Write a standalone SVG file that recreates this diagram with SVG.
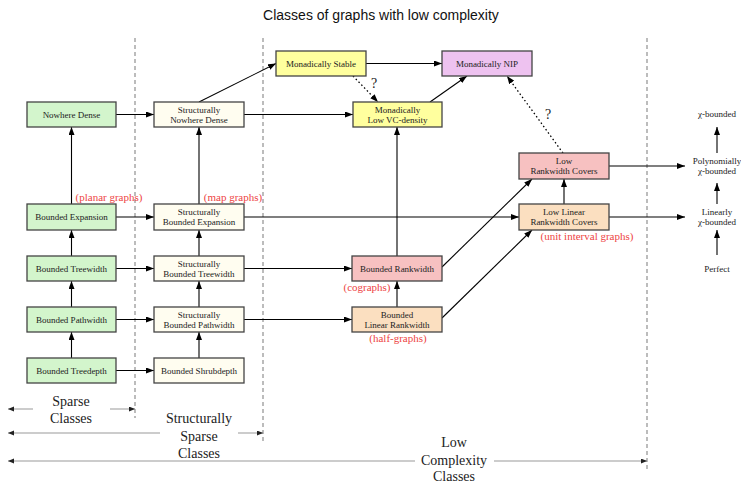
<svg xmlns="http://www.w3.org/2000/svg" width="741" height="484" viewBox="0 0 741 484">
<defs>
<style>
.bx{stroke:#444;stroke-width:1.3}
.g{fill:#d3f5cc}.c{fill:#fffdf0}.y{fill:#ffff9e}.p{fill:#eec2f0}.k{fill:#f7c1c1}.o{fill:#fbdfc0}
.t{font-family:"Liberation Serif",serif;font-size:9px;fill:#222;text-anchor:middle}
.r{font-family:"Liberation Serif",serif;font-size:11px;fill:#ee4444;text-anchor:middle}
.q{font-family:"Liberation Serif",serif;font-size:14px;fill:#222;text-anchor:middle}
.e{fill:none;stroke:#000;stroke-width:1.1;marker-end:url(#ah)}
.d{fill:none;stroke:#000;stroke-width:1.3;stroke-dasharray:1.5,2.5;marker-end:url(#ah)}
.v{fill:none;stroke:#999;stroke-width:1.3;stroke-dasharray:4,3}
.s{fill:none;stroke:#999;stroke-width:1;marker-end:url(#ah2)}
</style>
<marker id="ah" markerUnits="userSpaceOnUse" markerWidth="9" markerHeight="7" refX="8" refY="3" orient="auto"><path d="M0,0 L8,3 L0,6 z" fill="#000"/></marker>
<marker id="ah2" markerUnits="userSpaceOnUse" markerWidth="8" markerHeight="6" refX="6" refY="2.5" orient="auto"><path d="M0,0 L6,2.5 L0,5 z" fill="#222"/></marker>
</defs>
<rect width="741" height="484" fill="#fff"/>
<text x="381" y="20" font-family="Liberation Sans,sans-serif" font-size="14" text-anchor="middle" fill="#111">Classes of graphs with low complexity</text>
<g id="dividers">
<path class="v" d="M135,38 V418"/>
<path class="v" d="M263,38 V443"/>
<path class="v" d="M647,38 V470"/>
</g>
<g id="connectors">
<path class="e" d="M116,114.5 H154"/>
<path class="e" d="M244,114.5 H353"/>
<path class="e" d="M199,102 L276,63.5"/>
<path class="e" d="M366,63.5 H442"/>
<path class="d" d="M353,76 L378,102"/>
<path class="e" d="M430,102 L467,76"/>
<path class="d" d="M563,153 L507,76"/>
<path class="e" d="M397,256 V127"/>
<path class="e" d="M116,217 H154"/>
<path class="e" d="M244,217 H519"/>
<path class="e" d="M116,268.5 H154"/>
<path class="e" d="M244,268.5 H352"/>
<path class="e" d="M116,319.5 H154"/>
<path class="e" d="M244,319.5 H352"/>
<path class="e" d="M116,370.5 H154"/>
<path class="e" d="M71.5,204 V127"/>
<path class="e" d="M71.5,256 V230"/>
<path class="e" d="M71.5,307 V281"/>
<path class="e" d="M71.5,358 V332"/>
<path class="e" d="M199,204 V127"/>
<path class="e" d="M199,256 V230"/>
<path class="e" d="M199,307 V281"/>
<path class="e" d="M199,358 V332"/>
<path class="e" d="M397,307 V281"/>
<path class="e" d="M442,267 L532,179"/>
<path class="e" d="M442,318 L532,230"/>
<path class="e" d="M564,204 V179"/>
<path class="e" d="M609,166 H685"/>
<path class="e" d="M609,217 H685"/>
<path class="e" d="M717,153 V127"/>
<path class="e" d="M717,204 V183"/>
<path class="e" d="M717,255 V230"/>
<text class="q" x="374" y="88">?</text>
<text class="q" x="548" y="119">?</text>
</g>
<g id="nd"><rect class="bx g" x="27" y="102" width="89" height="25"/><text class="t" x="71.5" y="117.5">Nowhere Dense</text></g>
<g id="be"><rect class="bx g" x="27" y="204" width="89" height="26"/><text class="t" x="71.5" y="220">Bounded Expansion</text></g>
<g id="bt"><rect class="bx g" x="27" y="256" width="89" height="25"/><text class="t" x="71.5" y="271.5">Bounded Treewidth</text></g>
<g id="bp"><rect class="bx g" x="27" y="307" width="89" height="25"/><text class="t" x="71.5" y="322.5">Bounded Pathwidth</text></g>
<g id="btd"><rect class="bx g" x="27" y="358" width="89" height="25"/><text class="t" x="71.5" y="373.5">Bounded Treedepth</text></g>
<g id="snd"><rect class="bx c" x="154" y="102" width="90" height="25"/><text class="t" x="199" y="113">Structurally</text><text class="t" x="199" y="123">Nowhere Dense</text></g>
<g id="sbe"><rect class="bx c" x="154" y="204" width="90" height="26"/><text class="t" x="199" y="215">Structurally</text><text class="t" x="199" y="225">Bounded Expansion</text></g>
<g id="sbt"><rect class="bx c" x="154" y="256" width="90" height="25"/><text class="t" x="199" y="267">Structurally</text><text class="t" x="199" y="277">Bounded Treewidth</text></g>
<g id="sbp"><rect class="bx c" x="154" y="307" width="90" height="25"/><text class="t" x="199" y="318">Structurally</text><text class="t" x="199" y="328">Bounded Pathwidth</text></g>
<g id="bsd"><rect class="bx c" x="154" y="358" width="90" height="25"/><text class="t" x="199" y="373.5">Bounded Shrubdepth</text></g>
<g id="ms"><rect class="bx y" x="276" y="51" width="90" height="25"/><text class="t" x="321" y="66.5">Monadically Stable</text></g>
<g id="mnip"><rect class="bx p" x="442" y="51" width="90" height="25"/><text class="t" x="487" y="66.5">Monadically NIP</text></g>
<g id="mlvc"><rect class="bx y" x="353" y="102" width="89" height="25"/><text class="t" x="397.5" y="113">Monadically</text><text class="t" x="397.5" y="123">Low VC-density</text></g>
<g id="lrc"><rect class="bx k" x="519" y="153" width="90" height="26"/><text class="t" x="564" y="164">Low</text><text class="t" x="564" y="174">Rankwidth Covers</text></g>
<g id="llrc"><rect class="bx o" x="519" y="204" width="90" height="26"/><text class="t" x="564" y="215">Low Linear</text><text class="t" x="564" y="225">Rankwidth Covers</text></g>
<g id="br"><rect class="bx k" x="352" y="256" width="90" height="25"/><text class="t" x="397" y="271.5">Bounded Rankwidth</text></g>
<g id="blr"><rect class="bx o" x="352" y="307" width="90" height="25"/><text class="t" x="397" y="318">Bounded</text><text class="t" x="397" y="328">Linear Rankwidth</text></g>
<g id="chi"><text class="t" x="717" y="117">χ-bounded</text></g>
<g id="poly"><text class="t" x="717" y="164">Polynomially</text><text class="t" x="717" y="174">χ-bounded</text></g>
<g id="lin"><text class="t" x="717" y="215">Linearly</text><text class="t" x="717" y="225">χ-bounded</text></g>
<g id="perf"><text class="t" x="717" y="272">Perfect</text></g>
<g id="examples">
<text class="r" x="109" y="201">(planar graphs)</text>
<text class="r" x="233" y="201">(map graphs)</text>
<text class="r" x="367" y="291">(cographs)</text>
<text class="r" x="398" y="342">(half-graphs)</text>
<text class="r" x="587" y="240">(unit interval graphs)</text>
</g>
<g id="ranges">
<path class="s" d="M33,409 H8"/><path class="s" d="M110,409 H135"/>
<text class="q" x="71" y="406">Sparse</text><text class="q" x="71" y="423">Classes</text>
<path class="s" d="M160,433 H8"/><path class="s" d="M238,433 H263"/>
<text class="q" x="199" y="423">Structurally</text><text class="q" x="199" y="441">Sparse</text><text class="q" x="199" y="458">Classes</text>
<path class="s" d="M415,461 H8"/><path class="s" d="M494,461 H647"/>
<text class="q" x="454" y="447">Low</text><text class="q" x="454" y="465">Complexity</text><text class="q" x="454" y="481">Classes</text>
</g>
</svg>
